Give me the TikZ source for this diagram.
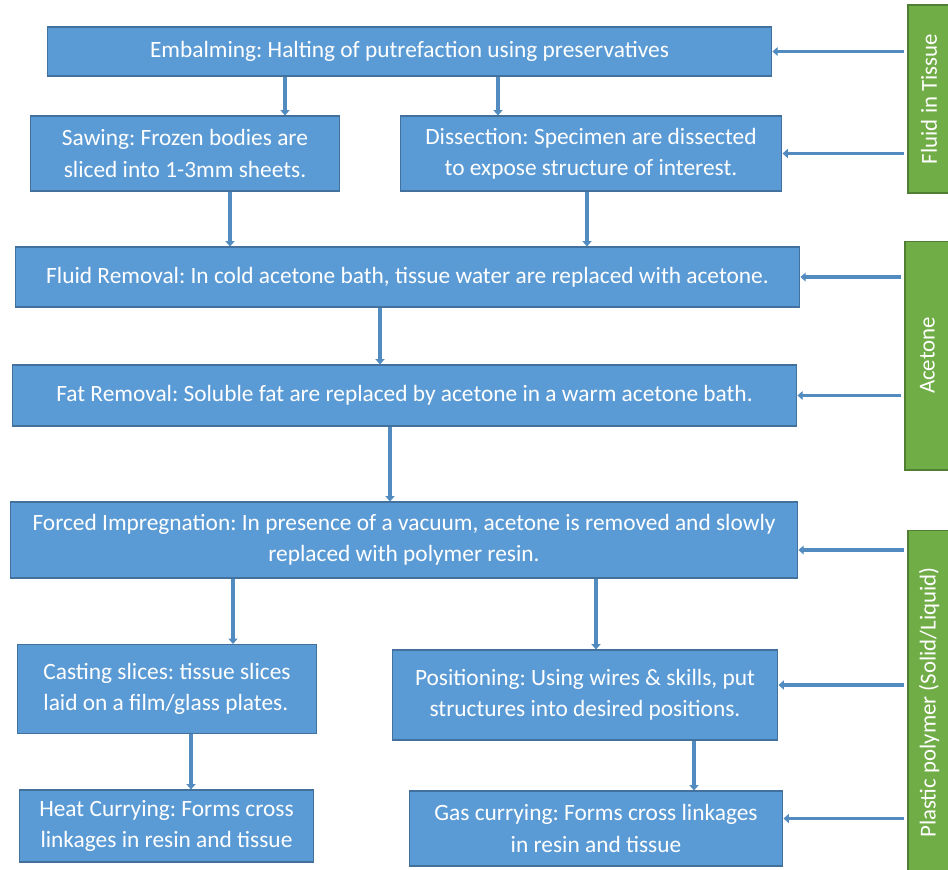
\documentclass[tikz,border=0pt]{standalone}
\usepackage{fontspec}
\setmainfont{Carlito}
\usepackage{tikz}
\usetikzlibrary{arrows.meta, positioning, calc}
\definecolor{boxblue}{HTML}{5B9BD5}
\definecolor{boxedge}{HTML}{41719C}
\definecolor{barred}{HTML}{70AD47}
\definecolor{baredge}{HTML}{507E32}
\frenchspacing
\tikzset{
  stepbox/.style={
    rectangle, inner sep=2pt,
    text centered, align=center, font=\fontsize{13.3}{17.8}\selectfont,
    draw=boxedge, line width=0.6pt, fill=boxblue, text=white
  },
  sidebar/.style={
    rectangle, rotate=90, inner sep=2pt,
    text centered, font=\fontsize{13}{15}\selectfont,
    draw=baredge, line width=0.6pt, fill=barred, text=white
  },
  flowarrow/.style={-{Triangle[length=3pt,width=5pt]}, line width=2pt, color=boxblue!90!black},
}

\begin{document}
\begin{tikzpicture}[x=0.02cm, y=-0.02cm]
      \useasboundingbox[fill=white] (0,0) rectangle (948,870);
      % process steps
      \node[stepbox, minimum width=14.5cm, minimum height=0.98cm](emb) at (409.5,51.5)
            {Embalming: Halting of putrefaction using preservatives};
      \node[stepbox, minimum width=6.2cm, minimum height=1.5cm](saw) at (185,153.5)
            {Sawing: Frozen bodies are\\sliced into 1-3mm sheets.};
      \node[stepbox, minimum width=7.64cm, minimum height=1.5cm](dis) at (591,153.5)
            {Dissection: Specimen are dissected\\to expose structure of interest.};
      \node[stepbox, minimum width=15.7cm, minimum height=1.2cm](fluid) at (407.5,277)
            {Fluid Removal: In cold acetone bath, tissue water are replaced with acetone.};
      \node[stepbox, minimum width=15.7cm, minimum height=1.22cm](fat) at (404.5,395.5)
            {Fat Removal: Soluble fat are replaced by acetone in a warm acetone bath.};
      \node[stepbox, minimum width=15.76cm, minimum height=1.52cm](forced) at (404,540)
            {Forced Impregnation: In presence of a vacuum, acetone is removed and slowly\\replaced with polymer resin.};
      \node[stepbox, minimum width=6.0cm, minimum height=1.78cm, align=left](cast) at (167,689)
            {Casting slices: tissue slices\\laid on a film/glass plates.};
      \node[stepbox, minimum width=7.72cm, minimum height=1.8cm](pos) at (585,695)
            {Positioning: Using wires \& skills, put\\structures into desired positions.};
      \node[stepbox, minimum width=5.9cm, minimum height=1.44cm](heat) at (166.5,826)
            {Heat Currying: Forms cross\\linkages in resin and tissue};
      \node[stepbox, minimum width=7.48cm, minimum height=1.5cm](gas) at (596,828.5)
            {Gas currying: Forms cross linkages\\in resin and tissue};
      % side bars
      \node[sidebar, minimum width=3.76cm, minimum height=0.84cm](gfluid) at (929,99) {Fluid in Tissue};
      \node[sidebar, minimum width=4.58cm, minimum height=0.9cm](gace) at (927.5,355.5) {Acetone};
      \node[sidebar, minimum width=6.9cm, minimum height=0.84cm](gplas) at (929,702.5) {Plastic polymer (Solid/Liquid)};
      % main flow
      \draw[flowarrow](emb.south -| 285,0)--(saw.north -| 285,0);
      \draw[flowarrow](emb.south -| 498,0)--(dis.north -| 498,0);
      \draw[flowarrow](saw.south -| 230,0)--(fluid.north -| 230,0);
      \draw[flowarrow](dis.south -| 587,0)--(fluid.north -| 587,0);
      \draw[flowarrow](fluid.south -| 380,0)--(fat.north -| 380,0);
      \draw[flowarrow](fat.south -| 390,0)--(forced.north -| 390,0);
      \draw[flowarrow](forced.south -| 233,0)--(cast.north -| 233,0);
      \draw[flowarrow](forced.south -| 596,0)--(pos.north -| 596,0);
      \draw[flowarrow](cast.south -| 191,0)--(heat.north -| 191,0);
      \draw[flowarrow](pos.south -| 694,0)--(gas.north -| 694,0);
      % inputs from the side bars
      \draw[flowarrow]([xshift=-2pt]gfluid.north |- emb.east)--(emb.east);
      \draw[flowarrow]([xshift=-2pt]gfluid.north |- dis.east)--(dis.east);
      \draw[flowarrow]([xshift=-2pt]gace.north |- fluid.east)--(fluid.east);
      \draw[flowarrow]([xshift=-2pt]gace.north |- fat.east)--(fat.east);
      \draw[flowarrow]([xshift=-2pt,yshift=-0.2cm]gplas.north |- forced.east)--([yshift=-0.2cm]forced.east);
      \draw[flowarrow]([xshift=-2pt,yshift=0.2cm]gplas.north |- pos.east)--([yshift=0.2cm]pos.east);
      \draw[flowarrow]([xshift=-2pt,yshift=0.2cm]gplas.north |- gas.east)--([yshift=0.2cm]gas.east);
    \end{tikzpicture}
\end{document}
